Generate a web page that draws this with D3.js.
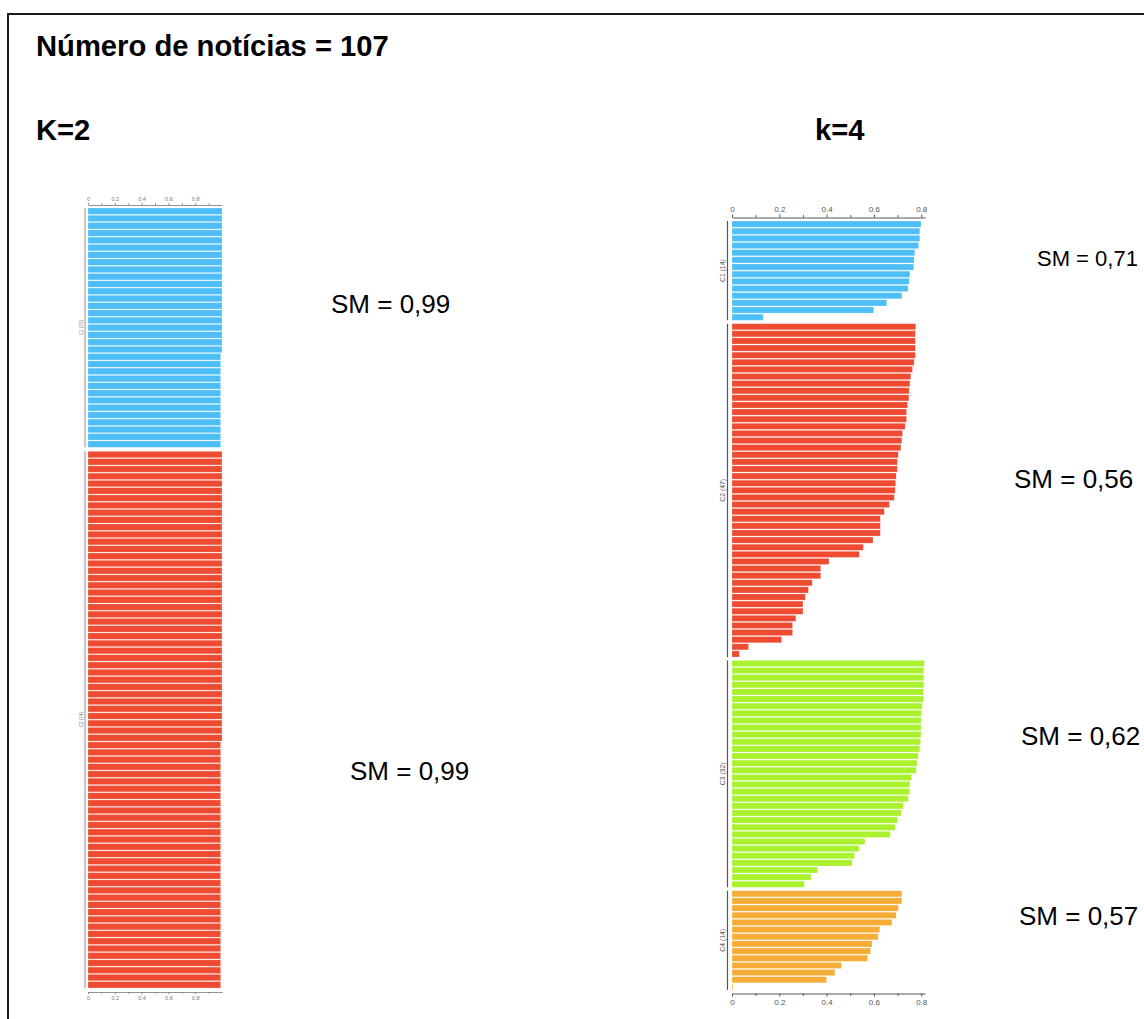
<!DOCTYPE html>
<html>
<head>
<meta charset="utf-8">
<script src="https://cdn.jsdelivr.net/npm/d3@7"></script>
<style>
  body { margin: 0; background: #fff; }
  svg { display: block; font-family: "Liberation Sans", Arial, sans-serif; }
</style>
</head>
<body>
<svg id="chart" width="1144" height="1019"></svg>
<script>
// Silhouette values per news item, grouped by cluster (sorted descending).

// k = 2
const k2Labels = ["C1 (33)", "C2 (74)"];
const k2C1 = [
  1.00, 1.00, 1.00, 1.00, 1.00, 1.00, 1.00, 1.00, 1.00, 1.00,
  1.00, 1.00, 1.00, 1.00, 1.00, 1.00, 1.00, 1.00, 1.00, 1.00,
  0.99, 0.99, 0.99, 0.99, 0.99, 0.99, 0.99, 0.99, 0.99, 0.99,
  0.99, 0.99, 0.99
];
const k2C2 = [
  1.00, 1.00, 1.00, 1.00, 1.00, 1.00, 1.00, 1.00, 1.00, 1.00,
  1.00, 1.00, 1.00, 1.00, 1.00, 1.00, 1.00, 1.00, 1.00, 1.00,
  1.00, 1.00, 1.00, 1.00, 1.00, 1.00, 1.00, 1.00, 1.00, 1.00,
  1.00, 1.00, 1.00, 1.00, 1.00, 1.00, 1.00, 1.00, 1.00, 1.00,
  0.99, 0.99, 0.99, 0.99, 0.99, 0.99, 0.99, 0.99, 0.99, 0.99,
  0.99, 0.99, 0.99, 0.99, 0.99, 0.99, 0.99, 0.99, 0.99, 0.99,
  0.99, 0.99, 0.99, 0.99, 0.99, 0.99, 0.99, 0.99, 0.99, 0.99,
  0.99, 0.99, 0.99, 0.99
];
const k2Scores = ["SM = 0,99", "SM = 0,99"];
const k2Colors = ["#4dbff6", "#ef4b33"];

// k = 4
const k4Labels = ["C1 (14)", "C2 (47)", "C3 (32)", "C4 (14)"];
const k4C1 = [0.799, 0.794, 0.794, 0.789, 0.773, 0.770, 0.768, 0.752, 0.749, 0.744, 0.718, 0.654, 0.599, 0.132];
const k4C2 = [
  0.777, 0.775, 0.775, 0.775, 0.775, 0.770, 0.763, 0.756, 0.752, 0.749,
  0.748, 0.742, 0.738, 0.738, 0.732, 0.721, 0.718, 0.714, 0.703, 0.699,
  0.699, 0.694, 0.692, 0.690, 0.686, 0.665, 0.644, 0.627, 0.627, 0.627,
  0.596, 0.555, 0.538, 0.410, 0.375, 0.375, 0.339, 0.323, 0.310, 0.300,
  0.300, 0.270, 0.256, 0.256, 0.210, 0.070, 0.031
];
const k4C3 = [
  0.813, 0.811, 0.811, 0.811, 0.810, 0.810, 0.804, 0.801, 0.800, 0.799,
  0.799, 0.797, 0.794, 0.787, 0.782, 0.779, 0.759, 0.752, 0.751, 0.745,
  0.724, 0.715, 0.700, 0.690, 0.669, 0.562, 0.537, 0.518, 0.508, 0.362,
  0.334, 0.306
];
const k4C4 = [0.718, 0.718, 0.703, 0.694, 0.676, 0.625, 0.618, 0.592, 0.586, 0.573, 0.463, 0.435, 0.400, 0.003];
const k4Scores = ["SM = 0,71", "SM = 0,56", "SM = 0,62", "SM = 0,57"];
const k4Colors = ["#4dbff6", "#ef4b33", "#aaf12e", "#f6ad37"];

// axis ticks
const majorTicks = [0, 0.2, 0.4, 0.6, 0.8];
const tickLabels = ["0", "0.2", "0.4", "0.6", "0.8"];
const k2MinorTicks = [0.1, 0.3, 0.5, 0.7, 0.9];
const k4MinorTicks = [0.1, 0.3, 0.5, 0.7];

const svg = d3.select("#chart");

// frame
svg.append("rect")
  .attr("x", 8).attr("y", 14).attr("width", 1200).attr("height", 1100)
  .attr("fill", "none").attr("stroke", "#000").attr("stroke-width", 1.8);

// headings
svg.append("text").attr("x", 36).attr("y", 56)
  .attr("font-size", 29.2).attr("font-weight", "bold").text("Número de notícias = 107");
svg.append("text").attr("x", 36).attr("y", 140)
  .attr("font-size", 29.2).attr("font-weight", "bold").text("K=2");
svg.append("text").attr("x", 815).attr("y", 140)
  .attr("font-size", 29.2).attr("font-weight", "bold").text("k=4");

function drawPanel(cfg) {
  const g = svg.append("g");
  const x = d3.scaleLinear().domain([0, cfg.xMax]).range([cfg.x0, cfg.x1]);
  const total = d3.sum(cfg.groups, d => d.length);
  const pitch = (cfg.yBottom - cfg.yTop - cfg.gap * (cfg.groups.length - 1)) / total;

  let cum = 0;
  cfg.groups.forEach((vals, gi) => {
    const start = cfg.yTop + cum * pitch + gi * cfg.gap;
    const end = start + vals.length * pitch;
    cum += vals.length;
    const y = d3.scaleBand().domain(d3.range(vals.length)).range([start, end]).paddingInner(cfg.pad);

    g.append("g").selectAll("rect").data(vals).join("rect")
      .attr("x", x(0))
      .attr("y", (d, i) => y(i))
      .attr("width", d => Math.max(0.8, x(d) - x(0)))
      .attr("height", y.bandwidth())
      .attr("fill", cfg.colors[gi])
      .attr("stroke", "#fff").attr("stroke-opacity", 0.35).attr("stroke-width", 0.6);

    // cluster bracket
    g.append("line")
      .attr("x1", cfg.bracketX).attr("x2", cfg.bracketX)
      .attr("y1", start).attr("y2", end)
      .attr("stroke", cfg.bracketColor).attr("stroke-width", cfg.bracketWidth);

    g.append("text")
      .attr("transform", `translate(${cfg.labelX},${(start + end) / 2}) rotate(-90)`)
      .attr("text-anchor", "middle").attr("dy", "0.35em")
      .attr("font-size", cfg.labelSize).attr("fill", cfg.axisColor)
      .text(cfg.labels[gi]);
  });

  // top and bottom axes
  [[d3.axisTop, cfg.axisTopY], [d3.axisBottom, cfg.axisBottomY]].forEach(([axisFn, ay]) => {
    const ax = g.append("g").attr("transform", `translate(0,${ay})`);
    ax.call(axisFn(x).tickValues(majorTicks).tickSize(cfg.tickLen).tickSizeOuter(0)
      .tickPadding(cfg.tickPad).tickFormat((d, i) => tickLabels[i]));
    const minor = g.append("g").attr("transform", `translate(0,${ay})`);
    minor.call(axisFn(x).tickValues(cfg.minor).tickSize(cfg.tickLen * 0.8).tickSizeOuter(0).tickFormat(""));
    minor.select(".domain").remove();
    [ax, minor].forEach(a => {
      a.selectAll("path, line").attr("stroke", cfg.axisColor).attr("stroke-width", cfg.axisWidth);
      a.selectAll("text").attr("font-size", cfg.tickSize).attr("fill", cfg.axisColor)
        .attr("font-family", "'Liberation Sans', Arial, sans-serif");
    });
  });
}

drawPanel({
  groups: [k2C1, k2C2], colors: k2Colors, labels: k2Labels,
  xMax: 1.0, x0: 88, x1: 222,
  yTop: 208, yBottom: 988, gap: 4, pad: 0.12,
  axisTopY: 205, axisBottomY: 992,
  bracketX: 85, bracketColor: "#c8c8c8", bracketWidth: 2.2,
  labelX: 81.5, labelSize: 4.6,
  minor: k2MinorTicks, tickLen: 2.2, tickPad: 2, tickSize: 5.5,
  axisColor: "#777", axisWidth: 0.8
});

drawPanel({
  groups: [k4C1, k4C2, k4C3, k4C4], colors: k4Colors, labels: k4Labels,
  xMax: 0.816, x0: 732, x1: 925,
  yTop: 221, yBottom: 990, gap: 3.4, pad: 0.14,
  axisTopY: 217.5, axisBottomY: 993.5,
  bracketX: 727.5, bracketColor: "#555", bracketWidth: 1.2,
  labelX: 723, labelSize: 6.8,
  minor: k4MinorTicks, tickLen: 3, tickPad: 3, tickSize: 8,
  axisColor: "#555", axisWidth: 1
});

// silhouette means per cluster
const scorePos = [
  [331, 313, 26], [350, 780, 26],
  [1037, 266, 22], [1014, 488, 26], [1021, 745, 26], [1019, 925, 26]
];
const allScores = k2Scores.concat(k4Scores);
svg.append("g").selectAll("text").data(allScores).join("text")
  .attr("x", (d, i) => scorePos[i][0])
  .attr("y", (d, i) => scorePos[i][1])
  .attr("font-size", (d, i) => scorePos[i][2])
  .text(d => d);
</script>
</body>
</html>
